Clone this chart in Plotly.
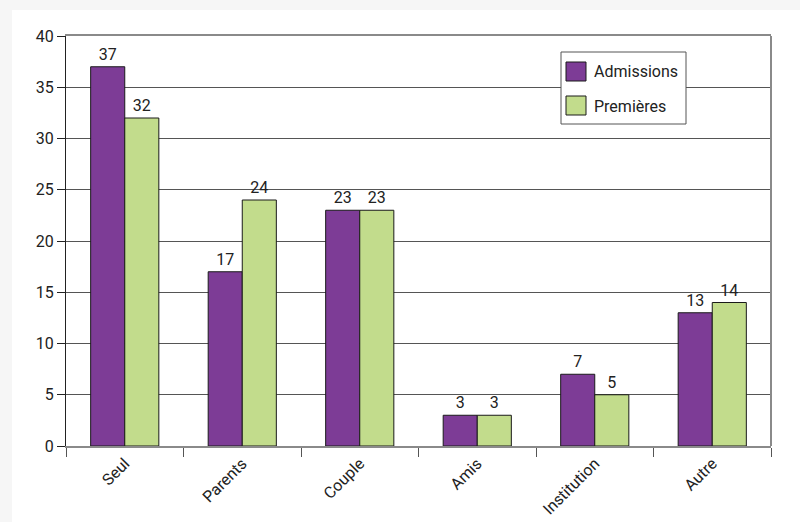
import plotly.graph_objects as go

categories = ["Seul", "Parents", "Couple", "Amis", "Institution", "Autre"]
admissions = [37, 17, 23, 3, 7, 13]
premieres = [32, 24, 23, 3, 5, 14]
series_names = ["Admissions", "Premières"]
y_ticks = [0, 5, 10, 15, 20, 25, 30, 35, 40]

PURPLE = "#7d3c96"
GREEN = "#c2dc8c"
FONT = "Roboto, Liberation Sans, sans-serif"

W, H = 800, 522
ML, MR, MT, MB = 66, 29, 36, 76
PW, PH = W - ML - MR, H - MT - MB


def px(x):
    return (x - ML) / PW


def py(y):
    return (H - MB - y) / PH


fig = go.Figure()
for name, vals, col in [(series_names[0], admissions, PURPLE),
                        (series_names[1], premieres, GREEN)]:
    fig.add_trace(go.Bar(
        x=categories, y=vals, name=name,
        marker=dict(color=col, line=dict(color="#1a1a1a", width=1)),
        text=[str(v) for v in vals], textposition="outside",
        textfont=dict(family=FONT, size=16, color="#222"),
        cliponaxis=False,
    ))

shapes = [
    # outer white sheet on a faint grey page
    dict(type="rect", xref="paper", yref="paper", x0=px(12), x1=px(W + 5),
         y0=py(H + 5), y1=py(10), fillcolor="white", line_width=0, layer="below"),
    # right border of the plot area
    dict(type="line", xref="paper", yref="paper", x0=1, x1=1, y0=0, y1=1,
         line=dict(color="#8a8a8a", width=2)),
    # legend box
    dict(type="rect", xref="paper", yref="paper", x0=px(561), x1=px(686),
         y0=py(124), y1=py(52), fillcolor="white", line=dict(color="#555", width=1)),
    dict(type="rect", xref="paper", yref="paper", x0=px(566), x1=px(586),
         y0=py(81), y1=py(62), fillcolor=PURPLE, line=dict(color="#1a1a1a", width=1)),
    dict(type="rect", xref="paper", yref="paper", x0=px(566), x1=px(586),
         y0=py(115), y1=py(96), fillcolor=GREEN, line=dict(color="#1a1a1a", width=1)),
]

annotations = [
    dict(xref="paper", yref="paper", x=px(592), y=py(72), text=series_names[0],
         showarrow=False, xanchor="left", yanchor="middle",
         font=dict(family=FONT, size=16, color="#222")),
    dict(xref="paper", yref="paper", x=px(592), y=py(106), text=series_names[1],
         showarrow=False, xanchor="left", yanchor="middle",
         font=dict(family=FONT, size=16, color="#222")),
]

fig.update_layout(
    width=W, height=H,
    margin=dict(l=ML, r=MR, t=MT, b=MB, autoexpand=False),
    paper_bgcolor="#f6f6f6", plot_bgcolor="white",
    barmode="group", bargap=0.42, bargroupgap=0,
    showlegend=False,
    shapes=shapes, annotations=annotations,
    font=dict(family=FONT, size=16, color="#222"),
    xaxis=dict(
        type="category", tickangle=-45, tickson="boundaries",
        ticks="outside", ticklen=9, tickcolor="#555", tickwidth=1,
        showline=True, linecolor="#8a8a8a", linewidth=2, mirror=True,
        showgrid=False, automargin=False,
        tickfont=dict(family=FONT, size=16, color="#222"),
    ),
    yaxis=dict(
        range=[0, 40], tickvals=y_ticks, ticks="outside", ticklen=8,
        tickcolor="#222", showline=True, linecolor="#222", linewidth=1,
        showgrid=True, gridcolor="#555", gridwidth=1, zeroline=False,
        automargin=False,
        tickfont=dict(family=FONT, size=16, color="#222"),
    ),
)

fig.write_html("out.html")
